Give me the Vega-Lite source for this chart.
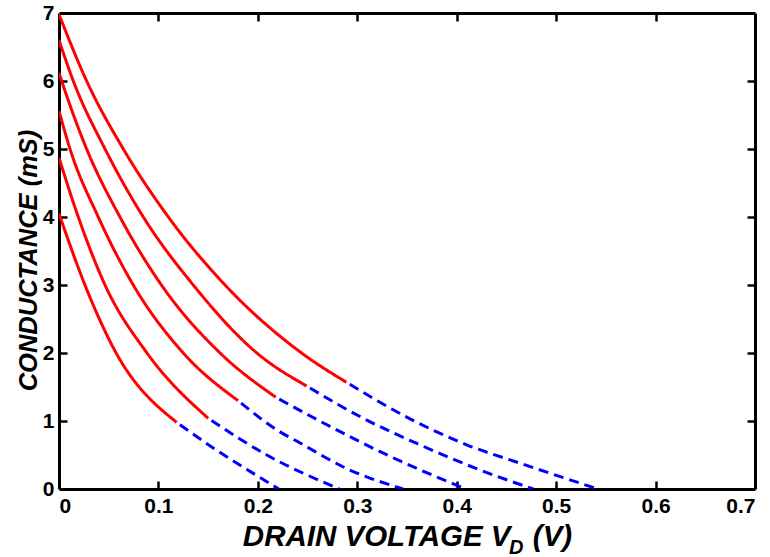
{
  "$schema": "https://vega.github.io/schema/vega-lite/v6.json",
  "width": 696,
  "height": 476,
  "autosize": {"type": "none"},
  "padding": {"left": 59, "top": 13, "right": 15, "bottom": 68},
  "background": "white",
  "config": {
    "view": {"stroke": null},
    "font": "Liberation Sans",
    "axis": {
      "domainColor": "black",
      "domainWidth": 3,
      "grid": false
    }
  },
  "data": {
    "values": [
      {"curve": 1, "part": "solid", "v": 0, "g": 6.98},
      {"curve": 1, "part": "solid", "v": 0.0278, "g": 6},
      {"curve": 1, "part": "solid", "v": 0.0647, "g": 5},
      {"curve": 1, "part": "solid", "v": 0.11, "g": 4},
      {"curve": 1, "part": "solid", "v": 0.167, "g": 3},
      {"curve": 1, "part": "solid", "v": 0.244, "g": 2},
      {"curve": 1, "part": "solid", "v": 0.289, "g": 1.57},
      {"curve": 1, "part": "dashed", "v": 0.289, "g": 1.57},
      {"curve": 1, "part": "dashed", "v": 0.356, "g": 1.01},
      {"curve": 1, "part": "dashed", "v": 0.41, "g": 0.65},
      {"curve": 1, "part": "dashed", "v": 0.4636, "g": 0.38},
      {"curve": 1, "part": "dashed", "v": 0.542, "g": 0},
      {"curve": 2, "part": "solid", "v": 0, "g": 6.6},
      {"curve": 2, "part": "solid", "v": 0.0144, "g": 6},
      {"curve": 2, "part": "solid", "v": 0.0463, "g": 5},
      {"curve": 2, "part": "solid", "v": 0.0848, "g": 4},
      {"curve": 2, "part": "solid", "v": 0.135, "g": 3},
      {"curve": 2, "part": "solid", "v": 0.199, "g": 2},
      {"curve": 2, "part": "solid", "v": 0.249, "g": 1.515},
      {"curve": 2, "part": "dashed", "v": 0.249, "g": 1.515},
      {"curve": 2, "part": "dashed", "v": 0.306, "g": 1.04},
      {"curve": 2, "part": "dashed", "v": 0.363, "g": 0.65},
      {"curve": 2, "part": "dashed", "v": 0.4234, "g": 0.28},
      {"curve": 2, "part": "dashed", "v": 0.477, "g": 0},
      {"curve": 3, "part": "solid", "v": 0, "g": 6.12},
      {"curve": 3, "part": "solid", "v": 0.0027, "g": 6},
      {"curve": 3, "part": "solid", "v": 0.0278, "g": 5},
      {"curve": 3, "part": "solid", "v": 0.0613, "g": 4},
      {"curve": 3, "part": "solid", "v": 0.103, "g": 3},
      {"curve": 3, "part": "solid", "v": 0.162, "g": 2},
      {"curve": 3, "part": "solid", "v": 0.218, "g": 1.35},
      {"curve": 3, "part": "dashed", "v": 0.218, "g": 1.35},
      {"curve": 3, "part": "dashed", "v": 0.2726, "g": 0.92},
      {"curve": 3, "part": "dashed", "v": 0.333, "g": 0.48},
      {"curve": 3, "part": "dashed", "v": 0.409, "g": 0},
      {"curve": 4, "part": "solid", "v": 0, "g": 5.56},
      {"curve": 4, "part": "solid", "v": 0.0111, "g": 5},
      {"curve": 4, "part": "solid", "v": 0.0395, "g": 4},
      {"curve": 4, "part": "solid", "v": 0.0747, "g": 3},
      {"curve": 4, "part": "solid", "v": 0.125, "g": 2},
      {"curve": 4, "part": "solid", "v": 0.18, "g": 1.3},
      {"curve": 4, "part": "dashed", "v": 0.18, "g": 1.3},
      {"curve": 4, "part": "dashed", "v": 0.2223, "g": 0.84},
      {"curve": 4, "part": "dashed", "v": 0.242, "g": 0.68},
      {"curve": 4, "part": "dashed", "v": 0.2894, "g": 0.3},
      {"curve": 4, "part": "dashed", "v": 0.346, "g": 0},
      {"curve": 5, "part": "solid", "v": 0, "g": 4.87},
      {"curve": 5, "part": "solid", "v": 0.0194, "g": 4},
      {"curve": 5, "part": "solid", "v": 0.0463, "g": 3},
      {"curve": 5, "part": "solid", "v": 0.0885, "g": 2},
      {"curve": 5, "part": "solid", "v": 0.15, "g": 1.04},
      {"curve": 5, "part": "dashed", "v": 0.15, "g": 1.04},
      {"curve": 5, "part": "dashed", "v": 0.209, "g": 0.5},
      {"curve": 5, "part": "dashed", "v": 0.282, "g": 0},
      {"curve": 6, "part": "solid", "v": 0, "g": 4.05},
      {"curve": 6, "part": "solid", "v": 0.0261, "g": 3},
      {"curve": 6, "part": "solid", "v": 0.056, "g": 2.04},
      {"curve": 6, "part": "solid", "v": 0.1183, "g": 0.98},
      {"curve": 6, "part": "dashed", "v": 0.1183, "g": 0.98},
      {"curve": 6, "part": "dashed", "v": 0.1586, "g": 0.57},
      {"curve": 6, "part": "dashed", "v": 0.1954, "g": 0.23},
      {"curve": 6, "part": "dashed", "v": 0.221, "g": 0}
    ]
  },
  "layer": [
    {
      "mark": {"type": "line", "strokeWidth": 3, "interpolate": "monotone", "clip": true, "strokeDashOffset": 12},
      "encoding": {
        "x": {
          "field": "v",
          "type": "quantitative",
          "scale": {"domain": [0, 0.7], "nice": false, "zero": false},
          "axis": {
            "values": [0, 0.1, 0.2, 0.3, 0.4, 0.5, 0.6, 0.7],
            "format": "~g",
            "ticks": false,
            "tickSize": 0,
            "domainColor": "black",
            "domainWidth": 3,
            "labelFont": "Liberation Sans",
            "labelFontSize": 21,
            "labelFontWeight": "bold",
            "labelColor": "black",
            "labelPadding": 6,
            "title": "DRAIN VOLTAGE V\u00a0\u00a0\u2009(V)",
            "titleFont": "Liberation Sans",
            "titleFontSize": 29.5,
            "titleFontWeight": "bold",
            "titleFontStyle": "italic",
            "titleColor": "black",
            "titleBaseline": "alphabetic",
            "titleY": 56
          }
        },
        "y": {
          "field": "g",
          "type": "quantitative",
          "scale": {"domain": [0, 7], "nice": false},
          "axis": {
            "values": [0, 1, 2, 3, 4, 5, 6, 7],
            "ticks": false,
            "tickSize": 0,
            "domainColor": "black",
            "domainWidth": 3,
            "labelFont": "Liberation Sans",
            "labelFontSize": 21,
            "labelFontWeight": "bold",
            "labelColor": "black",
            "labelPadding": 5,
            "title": "CONDUCTANCE (mS)",
            "titleFont": "Liberation Sans",
            "titleFontSize": 25.5,
            "titleFontWeight": "bold",
            "titleFontStyle": "italic",
            "titleColor": "black",
            "titleBaseline": "alphabetic",
            "titleX": -23,
            "titleY": 247
          }
        },
        "color": {
          "field": "part",
          "type": "nominal",
          "scale": {"domain": ["solid", "dashed"], "range": ["#ff0000", "#0000ff"]},
          "legend": null
        },
        "strokeDash": {
          "field": "part",
          "type": "nominal",
          "scale": {"domain": ["solid", "dashed"], "range": [[1, 0], [10, 6]]},
          "legend": null
        },
        "detail": {"field": "curve", "type": "nominal"}
      }
    },
    {
      "mark": {"type": "point", "opacity": 0},
      "encoding": {
        "x": {
          "field": "v",
          "type": "quantitative",
          "axis": {
            "orient": "top",
            "offset": -476,
            "values": [0.1, 0.2, 0.3, 0.4, 0.5, 0.6],
            "labels": false,
            "domain": false,
            "ticks": true,
            "tickSize": 8,
            "tickWidth": 2.5,
            "tickColor": "black",
            "tickOpacity": 1,
            "title": null
          }
        },
        "y": {
          "field": "g",
          "type": "quantitative",
          "axis": {
            "orient": "right",
            "offset": -696,
            "values": [1, 2, 3, 4, 5, 6],
            "labels": false,
            "domain": false,
            "ticks": true,
            "tickSize": 8,
            "tickWidth": 2.5,
            "tickColor": "black",
            "tickOpacity": 1,
            "title": null
          }
        }
      }
    },
    {
      "mark": {"type": "point", "opacity": 0},
      "encoding": {
        "x": {
          "field": "v",
          "type": "quantitative",
          "axis": {
            "orient": "bottom",
            "offset": -476,
            "values": [0.1, 0.2, 0.3, 0.4, 0.5, 0.6],
            "labels": false,
            "ticks": true,
            "tickSize": 8,
            "tickWidth": 2.5,
            "tickColor": "black",
            "tickOpacity": 1,
            "domainColor": "black",
            "domainWidth": 3,
            "title": null
          }
        },
        "y": {
          "field": "g",
          "type": "quantitative",
          "axis": {
            "orient": "left",
            "offset": -696,
            "values": [1, 2, 3, 4, 5, 6],
            "labels": false,
            "ticks": true,
            "tickSize": 8,
            "tickWidth": 2.5,
            "tickColor": "black",
            "tickOpacity": 1,
            "domainColor": "black",
            "domainWidth": 3,
            "title": null
          }
        }
      }
    },
    {
      "data": {"values": [{"label": "D"}]},
      "mark": {"type": "text", "font": "Liberation Sans", "fontSize": 20, "fontWeight": "bold", "fontStyle": "italic", "color": "black", "align": "left", "baseline": "alphabetic"},
      "encoding": {
        "x": {"datum": 0.4526, "type": "quantitative", "axis": null},
        "y": {"datum": -0.95, "type": "quantitative", "axis": null},
        "text": {"field": "label"}
      }
    }
  ],
  "resolve": {"axis": {"x": "independent", "y": "independent"}}
}
